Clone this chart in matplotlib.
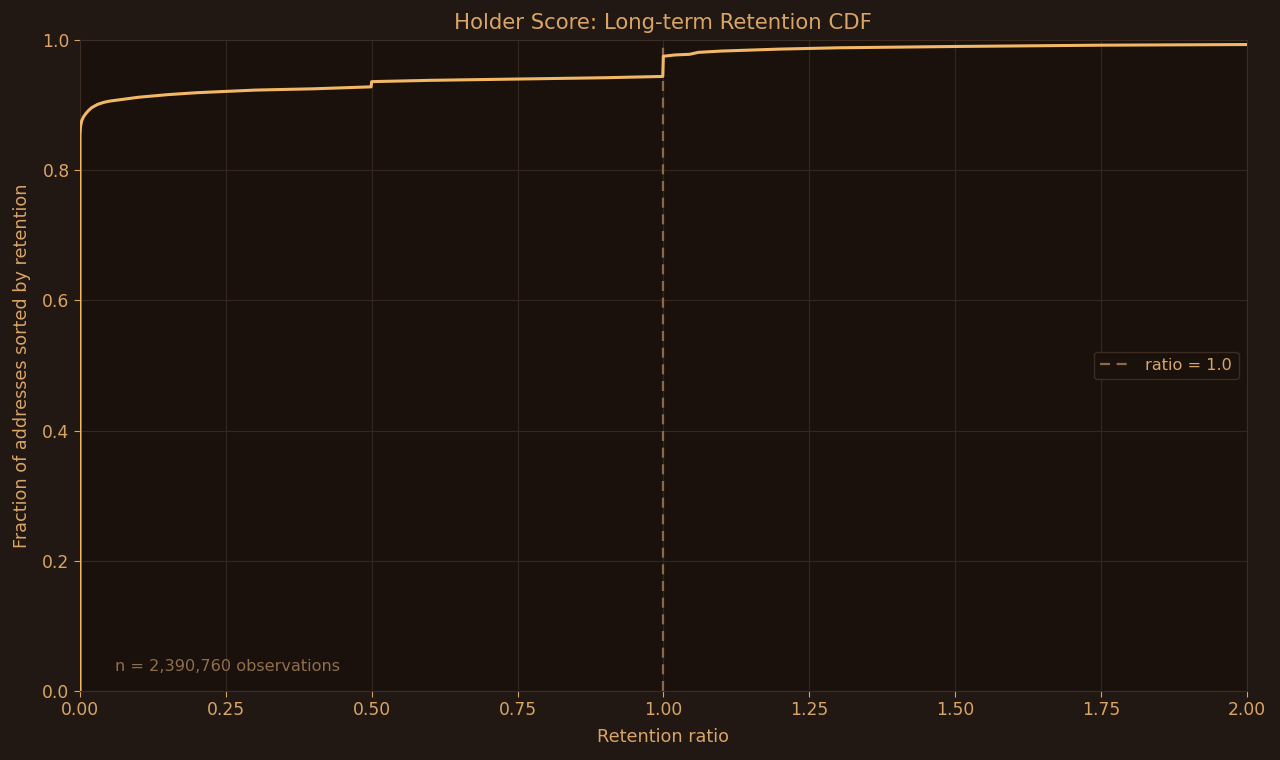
import matplotlib
matplotlib.use("Agg")
import matplotlib.pyplot as plt

# Data (retention ratio vs cumulative fraction)
retention_ratio = [0.0, 0.0, 0.001, 0.003, 0.006, 0.01, 0.015, 0.02, 0.03, 0.04, 0.05, 0.075,
                   0.1, 0.15, 0.2, 0.25, 0.3, 0.4, 0.499, 0.5, 0.6, 0.75, 0.9, 0.999,
                   1.0, 1.02, 1.045, 1.06, 1.1, 1.2, 1.3, 1.5, 1.75, 2.0]
cum_fraction = [0.0, 0.855, 0.868, 0.876, 0.882, 0.887, 0.892, 0.896, 0.901, 0.904, 0.906, 0.909,
                0.912, 0.916, 0.919, 0.921, 0.923, 0.925, 0.928, 0.936, 0.938, 0.940, 0.942, 0.944,
                0.975, 0.977, 0.978, 0.981, 0.983, 0.986, 0.988, 0.990, 0.992, 0.993]
x_ticks = [0.0, 0.25, 0.5, 0.75, 1.0, 1.25, 1.5, 1.75, 2.0]
y_ticks = [0.0, 0.2, 0.4, 0.6, 0.8, 1.0]
n_obs = 2390760
ref_ratio = 1.0

FIG_BG = "#211713"
AX_BG = "#1a110d"
TEXT = "#d9a566"
LINE = "#f2b866"
GRID = "#35271e"
SPINE = "#3d2c21"
VLINE = "#8c6a48"
NOTE = "#8f6e4c"

fig = plt.figure(figsize=(12.8, 7.6), dpi=100, facecolor=FIG_BG)
ax = fig.add_axes([0.0625, 0.0908, 0.9115, 0.8566])
ax.set_facecolor(AX_BG)

ax.plot(retention_ratio, cum_fraction, color=LINE, lw=2.2, zorder=3)
ax.axvline(ref_ratio, color=VLINE, ls=(0, (4.5, 3)), lw=1.6, label=f"ratio = {ref_ratio}", zorder=2)

ax.set_xlim(0, 2.0)
ax.set_ylim(0, 1.0)
ax.set_xticks(x_ticks)
ax.set_xticklabels([f"{v:.2f}" for v in x_ticks])
ax.set_yticks(y_ticks)
ax.set_yticklabels([f"{v:.1f}" for v in y_ticks])

ax.grid(True, color=GRID, lw=0.8)
ax.set_axisbelow(True)
for s in ax.spines.values():
    s.set_color(SPINE)
ax.tick_params(colors=TEXT, labelsize=12.3, length=4)
for t in ax.get_xticklines() + ax.get_yticklines():
    t.set_color("#c9a07a")

ax.set_title("Holder Score: Long-term Retention CDF", color=TEXT, fontsize=15.3, pad=8)
ax.set_xlabel("Retention ratio", color=TEXT, fontsize=12.7, labelpad=6)
ax.set_ylabel("Fraction of addresses sorted by retention", color=TEXT, fontsize=12.7, labelpad=8)

ax.text(0.03, 0.038, f"n = {n_obs:,} observations", transform=ax.transAxes,
        color=NOTE, fontsize=11.6, ha="left", va="center")

leg = ax.legend(loc="center right", fontsize=11.6, facecolor=AX_BG, edgecolor=SPINE,
                labelcolor=TEXT, framealpha=1.0, fancybox=True)

fig.savefig("out.png", dpi=100, facecolor=FIG_BG)
